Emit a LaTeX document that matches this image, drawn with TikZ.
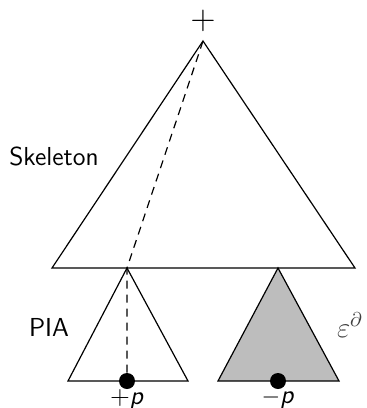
\documentclass[tikz,border=0pt]{standalone}
\usepackage{amsmath}
\usepackage{tikz}
\usetikzlibrary{positioning, calc}

\begin{document}
\begin{tikzpicture}[
    x=0.5pt, y=-0.5pt,
    font=\sffamily\fontsize{13}{15}\selectfont,
    % Shape styles
    tree/.style={draw=black, line width=0.6pt, line join=miter},
    greytree/.style={tree, fill=black!26},
    leaf/.style={circle, fill=black, inner sep=0pt, minimum size=8pt},
    % Edge styles
    pathline/.style={dashed, line width=0.6pt, dash pattern=on 4pt off 3pt},
    label/.style={inner sep=1pt}
]
\useasboundingbox (0,0) rectangle (366,408);

% -----------------------------------------------------------
% Skeleton
% -----------------------------------------------------------
\coordinate (top) at (203,41);
\coordinate (skl) at (52,268);
\coordinate (skr) at (355,268);
\draw[tree] (top) -- (skl) -- (skr) -- cycle;

% -----------------------------------------------------------
% Subtrees
% -----------------------------------------------------------
\coordinate (piatop) at (127,268);
\draw[tree] (piatop) -- (68,381) -- (188,381) -- cycle;
\coordinate (epstop) at (278,268);
\draw[greytree] (epstop) -- (218,381) -- (339,381) -- cycle;

\node[leaf] (pplus) at (127,381) {};
\node[leaf] (pminus) at (278,381) {};

% -----------------------------------------------------------
% Path
% -----------------------------------------------------------
\draw[pathline] (top) -- (piatop) -- (pplus.center);

% -----------------------------------------------------------
% Labels
% -----------------------------------------------------------
\node[label, font=\LARGE] (root) at (203,21) {$+$};
\node[label] (skel) at (54,156) {Skeleton};
\node[label] (pia) at (49,327) {PIA};
\node[label, text=black!75] (eps) at (350,325) {\Large$\varepsilon^{\partial}$};
\node[label, below=-1pt of pplus] (pp) {+\textsl{p}};
\node[label, below=-1pt of pminus] (pm) {$-$\textsl{p}};

\end{tikzpicture}
\end{document}
